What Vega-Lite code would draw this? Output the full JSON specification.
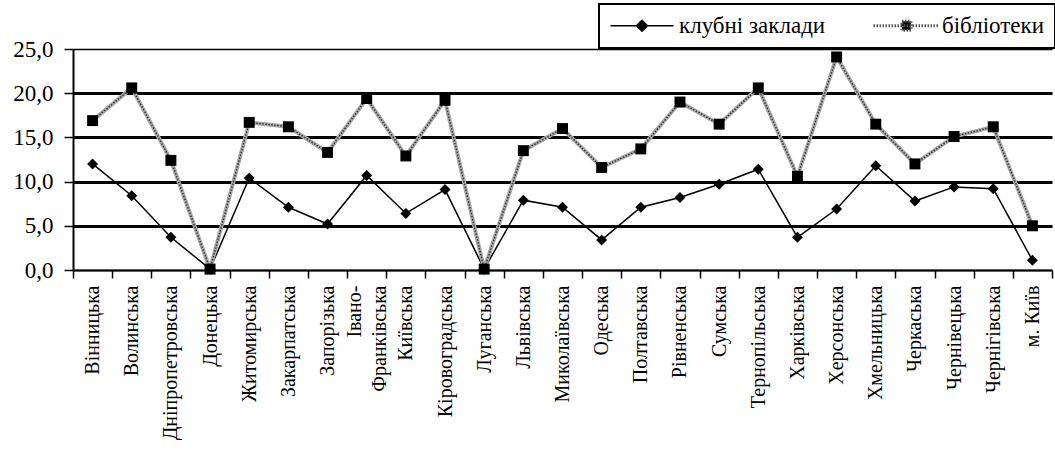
{
  "$schema": "https://vega.github.io/schema/vega-lite/v6.json",
  "width": 979,
  "height": 221,
  "autosize": {"type": "none"},
  "padding": {"left": 73, "top": 49, "right": 3, "bottom": 196},
  "background": "white",
  "config": {
    "view": {"stroke": null},
    "font": "Liberation Serif",
    "legend": {"strokeWidth": 2}
  },
  "data": {
    "values": [
      {"region": "Вінницька", "series": "клубні заклади", "value": 12.0},
      {"region": "Волинська", "series": "клубні заклади", "value": 8.4},
      {"region": "Дніпропетровська", "series": "клубні заклади", "value": 3.7},
      {"region": "Донецька", "series": "клубні заклади", "value": 0.1},
      {"region": "Житомирська", "series": "клубні заклади", "value": 10.4},
      {"region": "Закарпатська", "series": "клубні заклади", "value": 7.1},
      {"region": "Запорізька", "series": "клубні заклади", "value": 5.2},
      {"region": "Івано-Франківська", "series": "клубні заклади", "value": 10.7},
      {"region": "Київська", "series": "клубні заклади", "value": 6.4},
      {"region": "Кіровоградська", "series": "клубні заклади", "value": 9.1},
      {"region": "Луганська", "series": "клубні заклади", "value": 0.1},
      {"region": "Львівська", "series": "клубні заклади", "value": 7.9},
      {"region": "Миколаївська", "series": "клубні заклади", "value": 7.1},
      {"region": "Одеська", "series": "клубні заклади", "value": 3.4},
      {"region": "Полтавська", "series": "клубні заклади", "value": 7.1},
      {"region": "Рівненська", "series": "клубні заклади", "value": 8.2},
      {"region": "Сумська", "series": "клубні заклади", "value": 9.7},
      {"region": "Тернопільська", "series": "клубні заклади", "value": 11.4},
      {"region": "Харківська", "series": "клубні заклади", "value": 3.7},
      {"region": "Херсонська", "series": "клубні заклади", "value": 6.9},
      {"region": "Хмельницька", "series": "клубні заклади", "value": 11.8},
      {"region": "Черкаська", "series": "клубні заклади", "value": 7.8},
      {"region": "Чернівецька", "series": "клубні заклади", "value": 9.4},
      {"region": "Чернігівська", "series": "клубні заклади", "value": 9.2},
      {"region": "м. Київ", "series": "клубні заклади", "value": 1.1},
      {"region": "Вінницька", "series": "бібліотеки", "value": 16.9},
      {"region": "Волинська", "series": "бібліотеки", "value": 20.6},
      {"region": "Дніпропетровська", "series": "бібліотеки", "value": 12.4},
      {"region": "Донецька", "series": "бібліотеки", "value": 0.1},
      {"region": "Житомирська", "series": "бібліотеки", "value": 16.7},
      {"region": "Закарпатська", "series": "бібліотеки", "value": 16.2},
      {"region": "Запорізька", "series": "бібліотеки", "value": 13.3},
      {"region": "Івано-Франківська", "series": "бібліотеки", "value": 19.4},
      {"region": "Київська", "series": "бібліотеки", "value": 12.9},
      {"region": "Кіровоградська", "series": "бібліотеки", "value": 19.2},
      {"region": "Луганська", "series": "бібліотеки", "value": 0.1},
      {"region": "Львівська", "series": "бібліотеки", "value": 13.5},
      {"region": "Миколаївська", "series": "бібліотеки", "value": 16.0},
      {"region": "Одеська", "series": "бібліотеки", "value": 11.6},
      {"region": "Полтавська", "series": "бібліотеки", "value": 13.7},
      {"region": "Рівненська", "series": "бібліотеки", "value": 19.0},
      {"region": "Сумська", "series": "бібліотеки", "value": 16.5},
      {"region": "Тернопільська", "series": "бібліотеки", "value": 20.6},
      {"region": "Харківська", "series": "бібліотеки", "value": 10.6},
      {"region": "Херсонська", "series": "бібліотеки", "value": 24.1},
      {"region": "Хмельницька", "series": "бібліотеки", "value": 16.5},
      {"region": "Черкаська", "series": "бібліотеки", "value": 12.0},
      {"region": "Чернівецька", "series": "бібліотеки", "value": 15.1},
      {"region": "Чернігівська", "series": "бібліотеки", "value": 16.2},
      {"region": "м. Київ", "series": "бібліотеки", "value": 5.0}
    ]
  },
  "encoding": {
    "x": {
      "field": "region",
      "type": "nominal",
      "sort": null,
      "bandPosition": 0.5,
      "scale": {"type": "band", "paddingInner": 0, "paddingOuter": 0},
      "axis": {
        "title": null,
        "domainColor": "black",
        "domainWidth": 2,
        "tickColor": "black",
        "tickWidth": 1.5,
        "tickSize": 8,
        "tickBand": "extent",
        "labelAngle": -90,
        "labelAlign": "right",
        "labelBaseline": "middle",
        "labelPadding": 7,
        "labelFont": "Liberation Serif",
        "labelFontSize": 20,
        "labelColor": "black",
        "labelLimit": 400,
        "labelLineHeight": 25,
        "labelOffset": {"condition": {"test": "datum.value === 'Івано-Франківська'", "value": -12}, "value": 0},
        "labelExpr": "datum.label == 'Івано-Франківська' ? ['Івано-', 'Франківська'] : datum.label"
      }
    },
    "y": {
      "field": "value",
      "type": "quantitative",
      "scale": {"domain": [0, 25], "nice": false},
      "axis": {
        "title": null,
        "values": [0, 5, 10, 15, 20, 25],
        "grid": true,
        "gridColor": "black",
        "gridOpacity": 1,
        "gridWidth": {"condition": {"test": "datum.value === 25 || datum.value === 0", "value": 1.5}, "value": 3},
        "domainColor": "black",
        "domainWidth": 2,
        "tickColor": "black",
        "tickWidth": 1.5,
        "tickSize": 9,
        "labelPadding": 11,
        "labelFont": "Liberation Serif",
        "labelFontSize": 23,
        "labelColor": "black",
        "labelExpr": "replace(format(datum.value, '.1f'), '.', ',')"
      }
    }
  },
  "layer": [
    {
      "transform": [{"filter": "datum.series === 'клубні заклади'"}],
      "mark": {"type": "line", "color": "black", "strokeWidth": 1.5}
    },
    {
      "transform": [{"filter": "datum.series === 'бібліотеки'"}],
      "mark": {"type": "line", "color": "#a8a8a8", "strokeWidth": 4}
    },
    {
      "transform": [{"filter": "datum.series === 'бібліотеки'"}],
      "mark": {"type": "line", "color": "#3a3a3a", "strokeWidth": 1.5, "strokeDash": [1.5, 1.5]}
    },
    {
      "mark": {"type": "point", "filled": true, "opacity": 1, "size": 120},
      "encoding": {
        "shape": {
          "field": "series",
          "type": "nominal",
          "scale": {"domain": ["бібліотеки", "клубні заклади"], "range": ["square", "diamond"]},
          "legend": null
        },
        "color": {
          "field": "series",
          "type": "nominal",
          "scale": {"domain": ["клубні заклади", "бібліотеки"], "range": ["black", "black"]},
          "legend": {
            "title": null,
            "orient": "none",
            "legendX": 526,
            "legendY": -45,
            "direction": "horizontal",
            "strokeColor": "black",
            "fillColor": "white",
            "padding": 10,
            "symbolSize": 400,
            "labelOffset": 47,
            "columnPadding": 41,
            "labelFont": "Liberation Serif",
            "labelFontSize": 23,
            "labelColor": "black",
            "labelLimit": 400,
            "encoding": {
              "symbols": {
                "shape": {"value": {"expr": "datum.value === 'клубні заклади' ? 'M-1,0H5.3M2.15,-0.55L2.7,0L2.15,0.55L1.6,0Z' : 'M-1,0H5.5M1.85,-0.45H2.75V0.45H1.85Z'"}},
                "fill": {"value": "black"},
                "fillOpacity": {"value": 1},
                "opacity": {"value": 1},
                "stroke": {"value": {"expr": "datum.value === 'клубні заклади' ? 'black' : '#555555'"}},
                "strokeWidth": {"value": {"expr": "datum.value === 'клубні заклади' ? 1.5 : 3"}},
                "strokeDash": {"value": {"expr": "datum.value === 'клубні заклади' ? [] : [1.5, 1.5]"}}
              }
            }
          }
        }
      }
    }
  ]
}
